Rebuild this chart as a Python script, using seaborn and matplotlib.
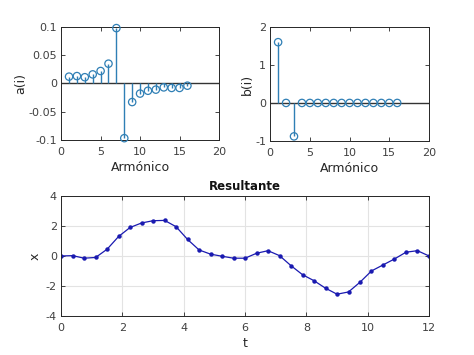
import numpy as np
import pandas as pd
import matplotlib
matplotlib.use("Agg")
import matplotlib.pyplot as plt
import seaborn as sns

# harmonic coefficients
harm = list(range(1, 17))
a_vals = [0.012, 0.013, 0.011, 0.016, 0.022, 0.035, 0.098, -0.097,
          -0.033, -0.018, -0.013, -0.011, -0.007, -0.008, -0.008, -0.004]
b_vals = [1.6, 0.0, -0.88, 0.0, 0.0, 0.0, 0.0, 0.0,
          0.0, 0.0, 0.0, 0.0, 0.0, 0.0, 0.0, 0.0]

# resulting signal sampled every 0.375
t_vals = [0, 0.375, 0.75, 1.125, 1.5, 1.875, 2.25, 2.625, 3.0, 3.375, 3.75,
          4.125, 4.5, 4.875, 5.25, 5.625, 6.0, 6.375, 6.75, 7.125, 7.5,
          7.875, 8.25, 8.625, 9.0, 9.375, 9.75, 10.125, 10.5, 10.875,
          11.25, 11.625, 12.0]
x_vals = [0.0, 0.02, -0.15, -0.1, 0.45, 1.3, 1.9, 2.2, 2.35, 2.37, 1.95,
          1.1, 0.4, 0.12, -0.02, -0.15, -0.15, 0.18, 0.35, 0.02, -0.65,
          -1.25, -1.65, -2.15, -2.55, -2.4, -1.75, -1.0, -0.6, -0.2,
          0.25, 0.35, 0.0]

sns.set_style("ticks")
plt.rcParams['font.family'] = ['DejaVu Sans']
plt.rcParams['axes.unicode_minus'] = False
txt = '#262626'
tick_col = '#404040'
stem_col = '#2f7fb5'

fig = plt.figure(figsize=(4.74, 3.55), dpi=100)
ax1 = fig.add_axes([0.129, 0.606, 0.333, 0.318])
ax2 = fig.add_axes([0.570, 0.603, 0.335, 0.321])
ax3 = fig.add_axes([0.129, 0.110, 0.776, 0.338])


def stem_panel(ax, vals, ylab, ylim, yticks, yticklabels):
    df = pd.DataFrame({'i': harm, 'v': vals})
    ax.vlines(df['i'], 0, df['v'], color=stem_col, lw=1.0, zorder=2)
    ax.axhline(0, color='#333333', lw=1.0, zorder=1)
    sns.scatterplot(data=df, x='i', y='v', ax=ax, marker='o', s=28,
                    facecolor='none', edgecolor=stem_col, linewidth=0.9,
                    zorder=3, clip_on=False)
    ax.set_xlim(0, 20)
    ax.set_ylim(*ylim)
    ax.set_xticks([0, 5, 10, 15, 20])
    ax.set_yticks(yticks)
    ax.set_yticklabels(yticklabels)
    ax.set_xlabel('Armónico', fontsize=9, color=txt, labelpad=3)
    ax.set_ylabel(ylab, fontsize=9, color=txt, labelpad=1)


stem_panel(ax1, a_vals, 'a(i)', (-0.1, 0.1), [-0.1, -0.05, 0, 0.05, 0.1],
           ['-0.1', '-0.05', '0', '0.05', '0.1'])
stem_panel(ax2, b_vals, 'b(i)', (-1, 2), [-1, 0, 1, 2], ['-1', '0', '1', '2'])

df_x = pd.DataFrame({'t': t_vals, 'x': x_vals})
sns.lineplot(data=df_x, x='t', y='x', ax=ax3, color='#1a1ab0', lw=0.9,
             marker='o', markersize=3.2, markeredgewidth=0)
ax3.set_xlim(0, 12)
ax3.set_ylim(-4, 4)
ax3.set_xticks(range(0, 13, 2))
ax3.set_yticks([-4, -2, 0, 2, 4])
ax3.grid(True, color='#e3e3e3', lw=0.8)
ax3.set_axisbelow(True)
ax3.set_xlabel('t', fontsize=9, color=txt, labelpad=3)
ax3.set_ylabel('x', fontsize=9, color=txt, labelpad=3)
ax3.set_title('Resultante', fontsize=8.5, fontweight='bold', color='#111111', pad=4)

for ax in (ax1, ax2, ax3):
    for s in ax.spines.values():
        s.set_visible(True)
        s.set_color('#262626')
        s.set_linewidth(0.7)
    ax.tick_params(direction='in', length=3, width=0.6, labelsize=8,
                   colors='#262626', labelcolor=tick_col, top=True, right=True)
    ax.tick_params(axis='x', pad=5)
    ax.tick_params(axis='y', pad=3)

fig.savefig('out.png', dpi=100, facecolor='white')
